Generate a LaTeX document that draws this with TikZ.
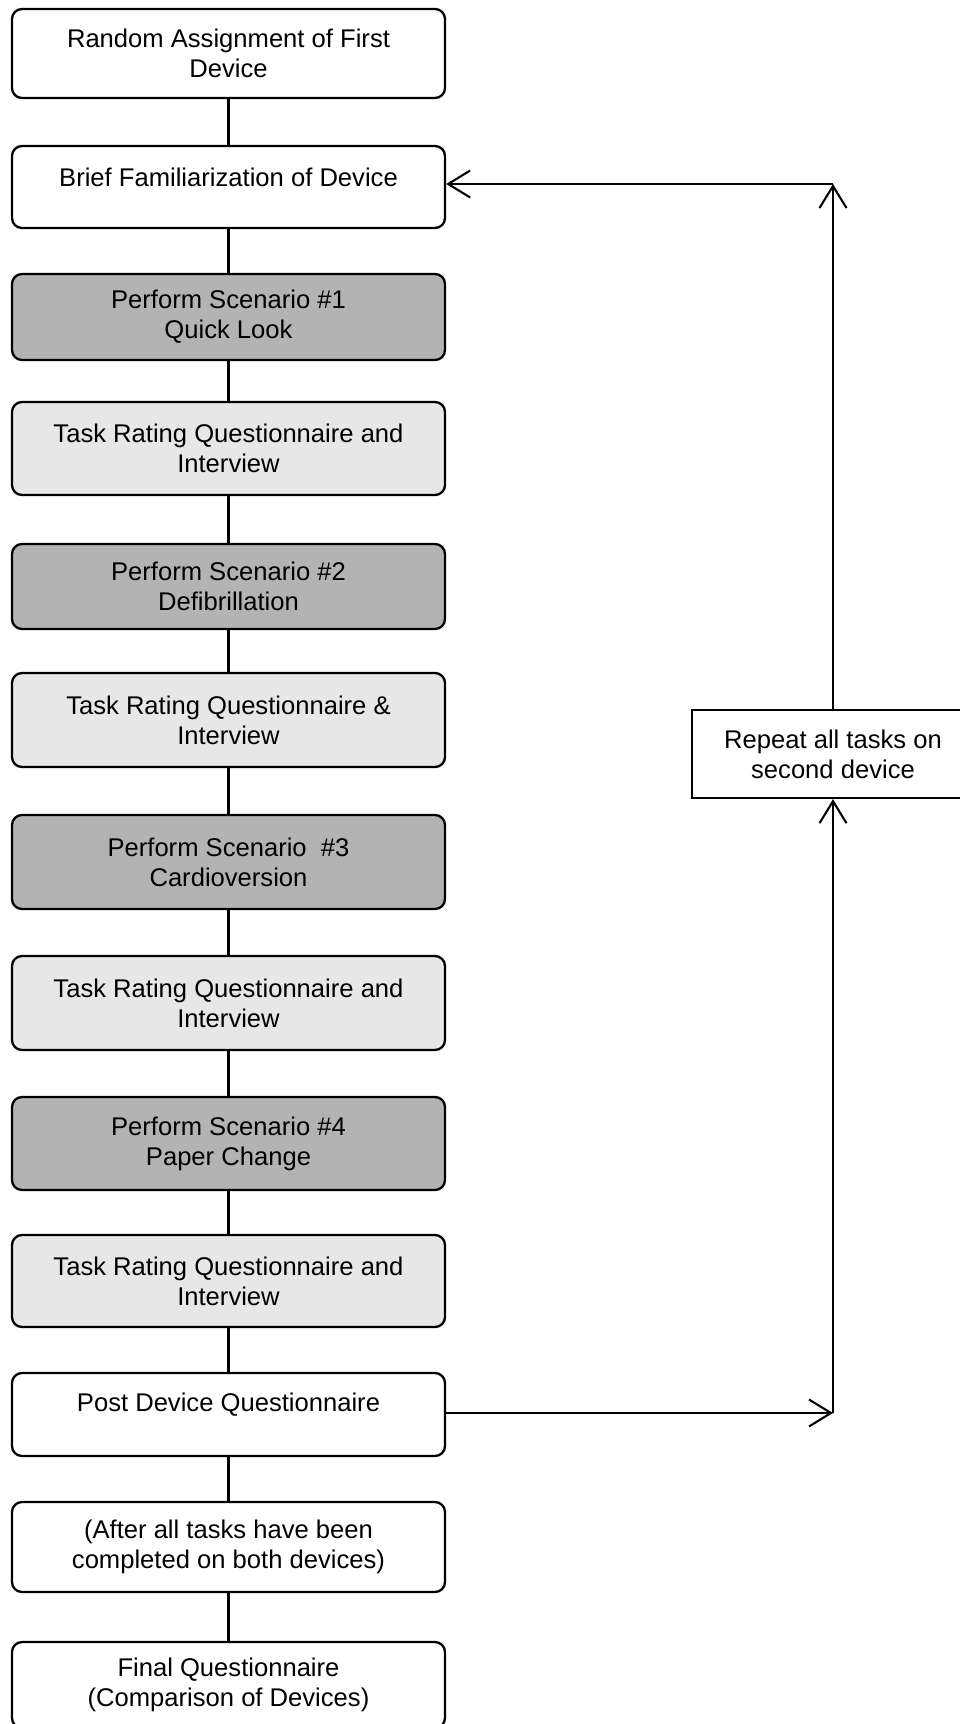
\documentclass[tikz,border=0pt]{standalone}
\usepackage{fontspec}
\setmainfont{Liberation Sans}
\usetikzlibrary{arrows.meta}
\definecolor{darkfill}{RGB}{179,179,179}
\definecolor{lightfill}{RGB}{231,231,231}
\tikzset{
  box/.style={draw=black, line width=2.3pt, rounded corners=10pt, minimum width=433pt, inner sep=0pt, align=center, font=\fontsize{25.6}{30}\selectfont, fill=white},
  darkbox/.style={box, fill=darkfill},
  lightbox/.style={box, fill=lightfill},
  sqbox/.style={draw=black, line width=2.3pt, minimum width=282pt, inner sep=0pt, align=center, font=\fontsize{25.6}{30}\selectfont, fill=white},
  txt/.style={inner sep=0pt, align=center, font=\fontsize{25.6}{30}\selectfont},
  link/.style={draw=black, line width=2.1pt},
  arr/.style={link, -{Straight Barb[length=22pt,width=27pt]}}
}
\begin{document}
\begin{tikzpicture}[x=1pt,y=-1pt]
\useasboundingbox (0,0) rectangle (959,1724);
\node[box, minimum height=89pt] (b1) at (228.5,53.5) {Random Assignment of First\\Device};
\node[box, minimum height=82pt] (b2) at (228.5,187) {};
\node[txt] (t2) at (228.5,177) {Brief Familiarization of Device};
\node[darkbox, minimum height=86pt] (b3) at (228.5,317) {Perform Scenario \#1\\Quick Look};
\node[lightbox, minimum height=93pt] (b4) at (228.5,448.5) {Task Rating Questionnaire and\\Interview};
\node[darkbox, minimum height=85pt] (b5) at (228.5,586.5) {Perform Scenario \#2\\Defibrillation};
\node[lightbox, minimum height=94pt] (b6) at (228.5,720) {Task Rating Questionnaire \&\\Interview};
\node[darkbox, minimum height=94pt] (b7) at (228.5,862) {Perform Scenario\ \ \#3\\Cardioversion};
\node[lightbox, minimum height=94pt] (b8) at (228.5,1003) {Task Rating Questionnaire and\\Interview};
\node[darkbox, minimum height=93pt] (b9) at (228.5,1143.5) {Perform Scenario \#4\\Paper Change};
\node[lightbox, minimum height=92pt] (b10) at (228.5,1281) {Task Rating Questionnaire and\\Interview};
\node[box, minimum height=83pt] (b11) at (228.5,1414.5) {};
\node[txt] (t11) at (228.5,1405) {Post Device Questionnaire};
\node[box, minimum height=90pt] (b12) at (228.5,1547) {(After all tasks have been\\completed on both devices)};
\node[box, minimum height=86pt] (b13) at (228.5,1685) {Final Questionnaire\\(Comparison of Devices)};
\node[sqbox, minimum height=88pt] (rep) at (833,754) {Repeat all tasks on\\second device};
\coordinate (c1) at (833,1413);
\coordinate (c2) at (833,184);
\foreach \a/\b in {b1/b2,b2/b3,b3/b4,b4/b5,b5/b6,b6/b7,b7/b8,b8/b9,b9/b10,b10/b11,b11/b12,b12/b13}
  \draw[link] (\a.south) -- (\b.north);
\draw[arr] (b11.east |- c1) -- (c1);
\draw[arr] (c1) -- (rep.south);
\draw[arr] (rep.north) -- (c2);
\draw[arr] (c2) -- (b2.east |- c2);
\end{tikzpicture}
\end{document}
